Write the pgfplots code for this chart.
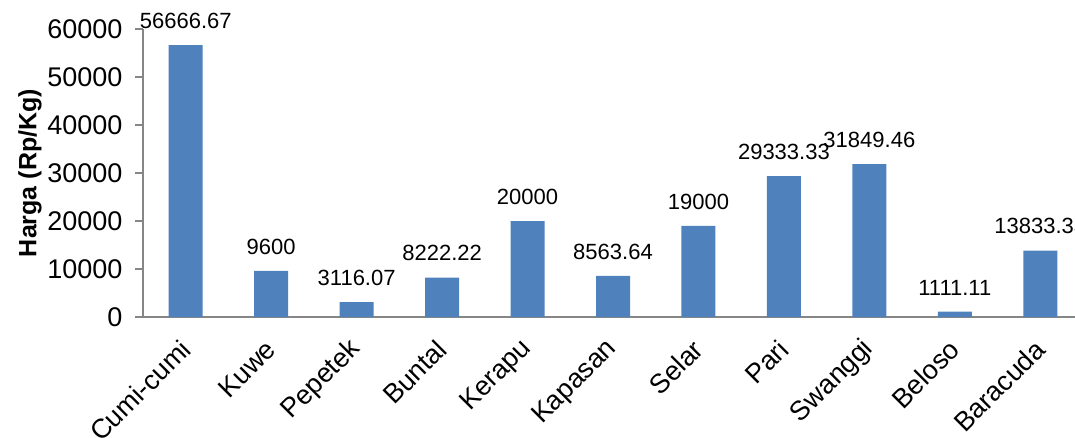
\documentclass[border=0pt]{standalone}
\usepackage{fontspec}
\setmainfont{Liberation Sans}
\usepackage{pgfplots}
\pgfplotsset{compat=1.18}
\definecolor{barblue}{HTML}{4F81BD}
\definecolor{axgray}{HTML}{868686}
\begin{document}
\begin{tikzpicture}
\begin{axis}[
  scale only axis,
  width=940pt, height=288pt,
  ymin=0, ymax=60000,
  xmin=-0.5, xmax=10.5,
  ytick={0,10000,...,60000},
  scaled y ticks=false,
  xtick={0,...,10},
  xticklabels={Cumi-cumi,Kuwe,Pepetek,Buntal,Kerapu,Kapasan,Selar,Pari,Swanggi,Beloso,Baracuda},
  axis x line*=bottom, axis y line*=left,
  axis line style={draw=axgray, line width=1.5pt, -},
  tick align=outside,
  major tick length=8pt,
  ytick style={draw=axgray, line width=1.5pt},
  xtick style={draw=none},
  /pgf/number format/1000 sep={},
  /pgf/number format/assume math mode=true,
  yticklabel style={font=\fontsize{27}{32}\selectfont, xshift=-9pt},
  xticklabel style={font=\fontsize{27}{32}\selectfont, rotate=45, anchor=east, inner sep=2pt, yshift=-14pt, xshift=-12pt},
  ylabel={\textbf{Harga (Rp/Kg)}},
  ylabel style={font=\fontsize{25}{30}\selectfont, at={(axis description cs:-0.1202,0.5)}, anchor=center},
  ybar, bar width=34pt,
  nodes near coords,
  point meta=explicit symbolic,
  every node near coord/.append style={font=\fontsize{22}{26}\selectfont, black, yshift=13pt},
  clip=false,
]
\addplot[fill=barblue, draw=none] coordinates {
  (0,56666.67) [56666.67]
  (1,9600) [9600]
  (2,3116.07) [3116.07]
  (3,8222.22) [8222.22]
  (4,20000) [20000]
  (5,8563.64) [8563.64]
  (6,19000) [19000]
  (7,29333.33) [29333.33]
  (8,31849.46) [31849.46]
  (9,1111.11) [1111.11]
  (10,13833.33) [13833.33]
};
\end{axis}
\pgfresetboundingbox
\useasboundingbox (-143pt,-120pt) rectangle (932pt,317pt);
\end{tikzpicture}
\end{document}
